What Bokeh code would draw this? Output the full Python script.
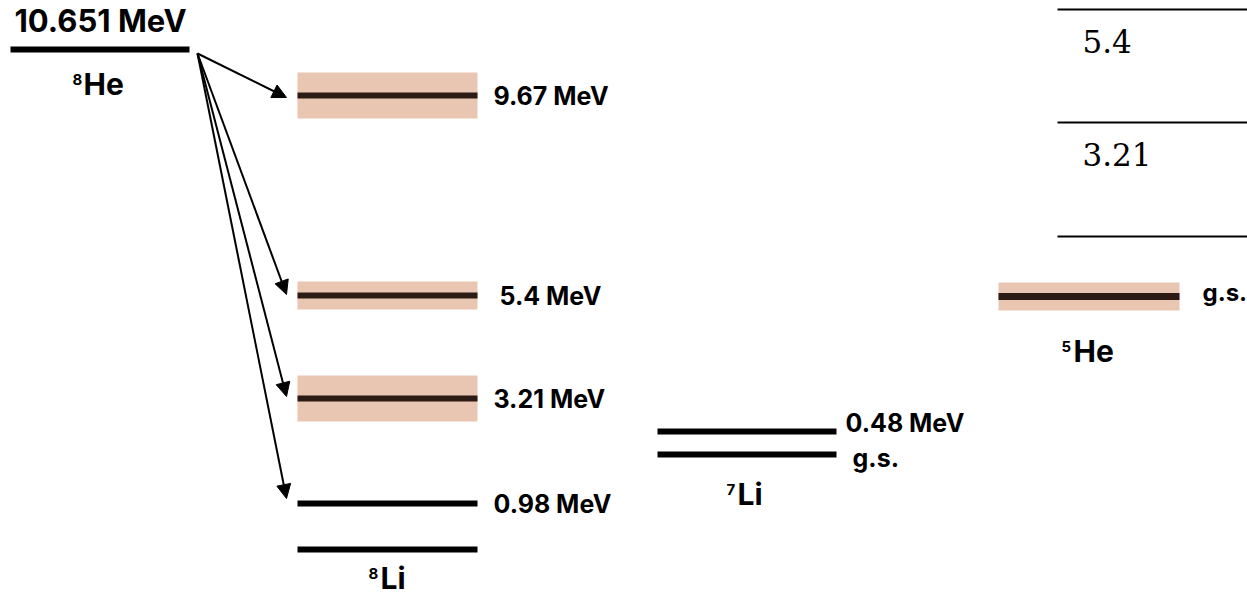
from bokeh.plotting import figure
from bokeh.models import Range1d, Arrow, NormalHead
from bokeh.core.properties import value
from bokeh.embed import file_html
from bokeh.resources import INLINE

# ---------------- data (schematic level scheme, positions in diagram units) -------------
he8_label = "10.651 MeV"
he8_level_y = 49

li8_energies = [9.67, 5.4, 3.21, 0.98, 0.0]
li8_labels = ["9.67 MeV", "5.4 MeV", "3.21 MeV", "0.98 MeV", ""]
li8_level_y = [95, 295, 398, 503, 549]
li8_width = [46, 28, 46, 0, 0]          # level width (broad resonances)

li7_labels = ["0.48 MeV", "g.s."]
li7_level_y = [431, 454]

he5_labels = ["g.s."]
he5_level_y = [296]
he5_width = [28]

ref_values = ["5.4", "3.21"]
ref_line_y = [9, 122, 236]

# decay arrows from 8He ground state to 8Li levels
arrow_targets = [0, 1, 2, 3]
arrow_tip_y = [97, 294, 396, 498]

BAND = "#e9c6b1"
DARK = "#2c1a14"
FONT = value("Inter")
LAB = 25

W, H = 1247, 596
p = figure(width=W, height=H, output_backend="svg", toolbar_location=None,
           x_range=Range1d(0, W), y_range=Range1d(H, 0),
           min_border=0, outline_line_color=None)
p.axis.visible = False
p.grid.visible = False
p.background_fill_color = "white"

def label(x, yb, t, size=LAB, font=FONT, style="bold"):
    p.text(x=[x], y=[yb - 0.4 * size], text=[t], text_font=font, text_font_style=style,
           text_font_size=f"{size}px", text_baseline="alphabetic", text_color="black")

def nucleus(xa, xs, yb, mass, sym):
    label(xa, yb - 10, mass, 15)
    label(xs, yb, sym, 30)

# ---- 8He ----
p.segment(x0=[10], x1=[189], y0=[he8_level_y], y1=[he8_level_y], line_width=6, line_color="black", line_cap="butt")
label(14, 32, he8_label, 31)
nucleus(72, 83, 95, "8", "He")

# ---- 8Li ----
lx0, lx1 = 297, 477
for y, w, lab in zip(li8_level_y, li8_width, li8_labels):
    if w > 0:
        p.quad(left=[lx0], right=[lx1], bottom=[y + w / 2], top=[y - w / 2], fill_color=BAND, line_color=None)
        col = DARK
    else:
        col = "black"
    p.segment(x0=[lx0], x1=[lx1], y0=[y], y1=[y], line_width=6, line_color=col, line_cap="butt")
    if lab:
        xo = 499 if lab.startswith("5.4") else 493
        label(xo, y + 10, lab)
nucleus(368, 380, 589, "8", "Li")

# ---- 7Li ----
for y in li7_level_y:
    p.segment(x0=[657], x1=[836], y0=[y], y1=[y], line_width=6, line_color="black", line_cap="butt")
for x, y, lab in zip([845, 852], [432, 467], li7_labels):
    label(x, y, lab)
nucleus(726, 737, 505, "7", "Li")

# ---- 5He ----
for y, w in zip(he5_level_y, he5_width):
    p.quad(left=[998], right=[1179], bottom=[y + w / 2], top=[y - w / 2], fill_color=BAND, line_color=None)
    p.segment(x0=[998], x1=[1179], y0=[y], y1=[y], line_width=7, line_color=DARK, line_cap="butt")
label(1202, 302, he5_labels[0], 24)
nucleus(1061, 1073, 362, "5", "He")

# ---- reference lines (top right) ----
p.segment(x0=[1057] * 3, x1=[1247] * 3, y0=ref_line_y, y1=ref_line_y, line_width=2, line_color="black")
for y, lab in zip(ref_line_y[:2], ref_values):
    label(1082, y + 44, lab, 31, value("DejaVu Serif"), "normal")

# ---- arrows ----
for i, ty in zip(arrow_targets, arrow_tip_y):
    p.add_layout(Arrow(end=NormalHead(size=14, fill_color="black", line_color="black"),
                       x_start=197, y_start=53, x_end=286, y_end=ty,
                       line_width=2, line_color="black"))

open("out.html", "w").write(file_html(p, INLINE))
